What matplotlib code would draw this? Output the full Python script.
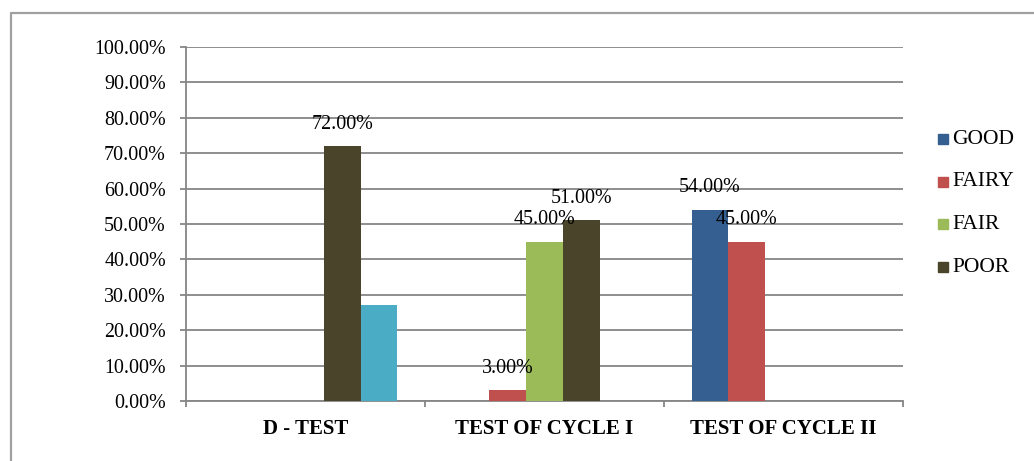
import matplotlib
matplotlib.use("Agg")
import matplotlib.pyplot as plt
from matplotlib.patches import Rectangle
from matplotlib.lines import Line2D
import numpy as np

categories = ["D - TEST", "TEST OF CYCLE I", "TEST OF CYCLE II"]
series_names = ["GOOD", "FAIRY", "FAIR", "POOR", ""]
good = [0.0, 0.0, 54.0]
fairy = [0.0, 3.0, 45.0]
fair = [0.0, 45.0, 0.0]
poor = [72.0, 51.0, 0.0]
other = [27.0, 0.0, 0.0]
series_values = [good, fairy, fair, poor, other]
series_colors = ["#365F91", "#C0504D", "#9BBB59", "#4A452A", "#4BACC6"]
show_labels = [True, True, True, True, False]
yticks = [0, 10, 20, 30, 40, 50, 60, 70, 80, 90, 100]

W, H = 1034, 461
plt.rcParams['font.family'] = ['Liberation Serif', 'DejaVu Serif']
FS = 14.4
fig = plt.figure(figsize=(W / 100, H / 100), dpi=100)
ax = fig.add_axes([186 / W, (H - 401) / H, (903 - 186) / W, (401 - 47) / H])

n = len(series_values)
bw = 1 / (n + 1.5)
x = np.arange(len(categories))
grid_c = "#868686"
for i, (vals, col, lab) in enumerate(zip(series_values, series_colors, show_labels)):
    pos = x + (i - (n - 1) / 2) * bw
    bars = ax.bar(pos, vals, width=bw, color=col, zorder=3)
    if lab:
        for p, v in zip(pos, vals):
            if v > 0:
                ax.annotate(f"{v:.2f}%", xy=(p, v), xytext=(0, 22 * 0.72),
                            textcoords='offset points', ha='center', va='center',
                            fontsize=FS, zorder=4)

ax.set_xlim(-0.5, len(categories) - 0.5)
ax.set_ylim(0, 100)
ax.set_yticks(yticks)
ax.set_yticklabels([f"{t:.2f}%" for t in yticks], fontsize=FS)
ax.yaxis.grid(True, color=grid_c, linewidth=1.3, zorder=0)
ax.set_axisbelow(True)
ax.tick_params(axis='y', length=4, width=1.3, color=grid_c, pad=10.5)

ax.set_xticks(x)
ax.set_xticklabels(categories, fontsize=15, fontweight='bold')
ax.set_xticks(np.arange(-0.5, len(categories)), minor=True)
ax.tick_params(axis='x', which='major', length=0, pad=13)
ax.tick_params(axis='x', which='minor', length=4, width=1.3, color=grid_c)

for s in ['top', 'right']:
    ax.spines[s].set_visible(False)
for s in ['left', 'bottom']:
    ax.spines[s].set_color(grid_c)
    ax.spines[s].set_linewidth(1.3)

# legend
leg_y = [139, 182, 224, 267]
for name, col, yy in zip(series_names[:4], series_colors[:4], leg_y):
    fig.patches.append(Rectangle((938 / W, (H - yy - 5) / H), 10 / W, 10 / H,
                                 transform=fig.transFigure, color=col))
    fig.text(952 / W, (H - yy) / H, name, fontsize=15.5, va='center', ha='left')

# outer border
fig.add_artist(Line2D([10.5 / W, 10.5 / W, 1.0], [0, (H - 13) / H, (H - 13) / H],
                      transform=fig.transFigure, color="#A0A0A0", linewidth=1.6))

fig.savefig("out.png", dpi=100)
